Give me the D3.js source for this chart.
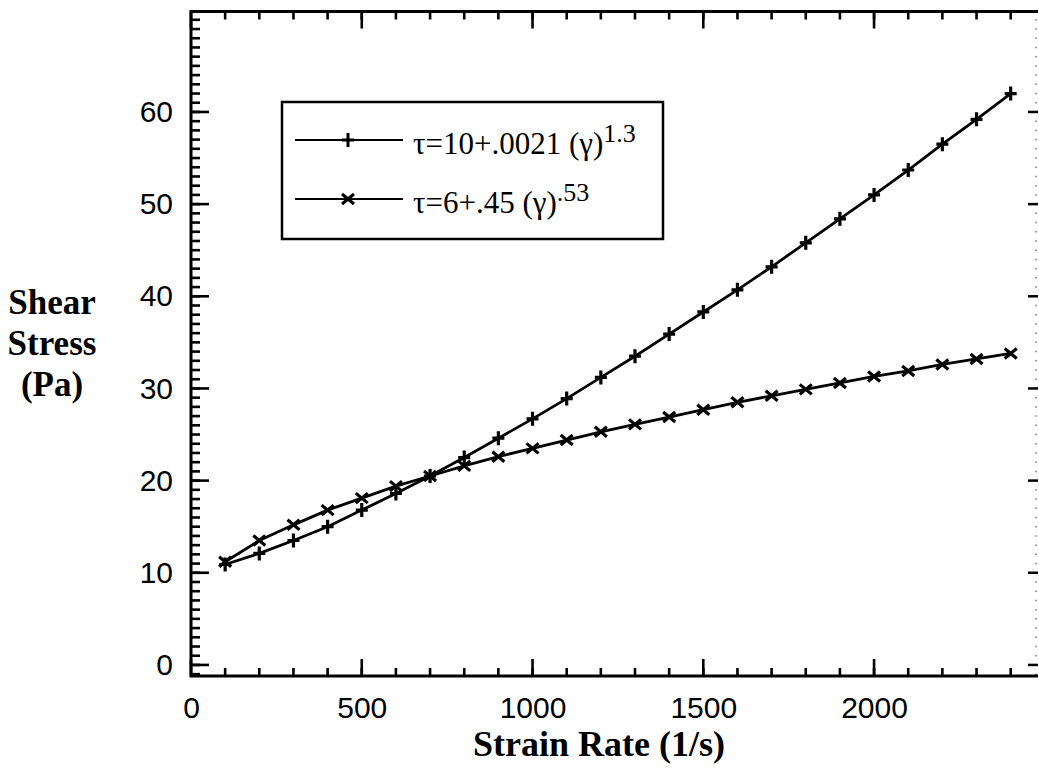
<!DOCTYPE html>
<html>
<head>
<meta charset="utf-8">
<script src="https://cdn.jsdelivr.net/npm/d3@7"></script>
<style>
body { margin: 0; background: #fff; }
svg { display: block; }
.ticklabel { font-family: "Liberation Sans", Arial, sans-serif; font-size: 30px; fill: #000; }
.title { font-family: "Liberation Serif", "Times New Roman", serif; font-weight: bold; fill: #000; }
.leg { font-family: "Liberation Serif", "Times New Roman", serif; font-size: 31px; fill: #000; }
</style>
</head>
<body>
<script>
var width = 1039;
var height = 775;

// strain rate (1/s)
var strainRate = [100, 200, 300, 400, 500, 600, 700, 800, 900, 1000, 1100, 1200,
                  1300, 1400, 1500, 1600, 1700, 1800, 1900, 2000, 2100, 2200, 2300, 2400];
// shear stress (Pa)
var stressPlus = [10.9, 12.1, 13.5, 15.0, 16.8, 18.6, 20.5, 22.5, 24.6, 26.7, 28.9, 31.2,
                  33.5, 35.9, 38.3, 40.7, 43.2, 45.8, 48.4, 51.0, 53.7, 56.5, 59.2, 62.0];
var stressCross = [11.2, 13.5, 15.2, 16.8, 18.1, 19.4, 20.5, 21.6, 22.6, 23.5, 24.4, 25.3,
                   26.1, 26.9, 27.7, 28.5, 29.2, 29.9, 30.6, 31.3, 31.9, 32.6, 33.2, 33.8];

var xMajor = [0, 500, 1000, 1500, 2000];
var xMinor = d3.range(100, 2500, 100);
var yMajor = [0, 10, 20, 30, 40, 50, 60];
var yMinor = d3.range(-1, 71, 1);

var legendLabels = [
    { base: "τ=10+.0021 (γ)", sup: "1.3" },
    { base: "τ=6+.45 (γ)", sup: ".53" }
];

var x = d3.scaleLinear().domain([0, 2480]).range([191, 1038]);
var y = d3.scaleLinear().domain([-1.2, 70.9]).range([676, 11.5]);

var x0 = x.range()[0], x1 = x.range()[1];
var y0 = y.range()[0], y1 = y.range()[1];

var svg = d3.select("body").append("svg")
    .attr("width", width)
    .attr("height", height);

// tick labels via axes (their lines removed)
var fmt = d3.format("d");
svg.append("g").attr("transform", "translate(0," + y0 + ")")
    .call(d3.axisBottom(x).tickValues(xMajor).tickSize(0).tickPadding(21).tickFormat(fmt))
    .call(function (g) {
        g.select(".domain").remove();
        g.selectAll(".tick line").remove();
        g.selectAll("text").attr("class", "ticklabel");
    });
svg.append("g").attr("transform", "translate(" + x0 + ",0)")
    .call(d3.axisLeft(y).tickValues(yMajor).tickSize(0).tickPadding(18).tickFormat(fmt))
    .call(function (g) {
        g.select(".domain").remove();
        g.selectAll(".tick line").remove();
        g.selectAll("text").attr("class", "ticklabel");
    });
svg.selectAll(".ticklabel").style("font-size", "30px");

// series
var plusPath = "M-6,0H6M0,-7V7";
var crossPath = "M-6,-5L6,5M-6,5L6,-5";

var series = [
    { values: stressPlus, marker: plusPath },
    { values: stressCross, marker: crossPath }
];

var valueLine = d3.line()
    .x(function (d) { return x(d[0]); })
    .y(function (d) { return y(d[1]); });

series.forEach(function (s) {
    var pts = strainRate.map(function (v, i) { return [v, s.values[i]]; });
    svg.append("path")
        .attr("d", valueLine(pts))
        .attr("fill", "none")
        .attr("stroke", "#000")
        .attr("stroke-width", 2.8);
    svg.append("g").selectAll("path")
        .data(pts)
        .enter().append("path")
        .attr("transform", function (d) { return "translate(" + x(d[0]) + "," + y(d[1]) + ")"; })
        .attr("d", s.marker)
        .attr("fill", "none")
        .attr("stroke", "#000")
        .attr("stroke-width", 3.2);
});

// legend
svg.append("rect")
    .attr("x", 282).attr("y", 102)
    .attr("width", 381).attr("height", 137)
    .attr("fill", "#fff")
    .attr("stroke", "#000")
    .attr("stroke-width", 2.5);

var legRow = svg.selectAll(".legrow")
    .data(legendLabels)
    .enter().append("g")
    .attr("class", "legrow")
    .attr("transform", function (d, i) { return "translate(0," + (140 + i * 59) + ")"; });

legRow.append("line")
    .attr("x1", 295).attr("x2", 403)
    .attr("stroke", "#000").attr("stroke-width", 1.8);
legRow.append("path")
    .attr("transform", "translate(348,0)")
    .attr("d", function (d, i) { return series[i].marker; })
    .attr("fill", "none").attr("stroke", "#000").attr("stroke-width", 3);

var lt = legRow.append("text")
    .attr("class", "leg")
    .attr("x", 413)
    .attr("y", 14);
lt.append("tspan").text(function (d) { return d.base; });
lt.append("tspan")
    .attr("dy", -12)
    .style("font-size", "26px")
    .text(function (d) { return d.sup; });

// axis titles
svg.append("text")
    .attr("class", "title")
    .attr("x", 599).attr("y", 756)
    .attr("text-anchor", "middle")
    .style("font-size", "36px")
    .text("Strain Rate (1/s)");

svg.selectAll(".ytitle")
    .data(["Shear", "Stress", "(Pa)"])
    .enter().append("text")
    .attr("class", "title ytitle")
    .attr("x", 52)
    .attr("y", function (d, i) { return 314 + i * 41; })
    .attr("text-anchor", "middle")
    .style("font-size", "35px")
    .text(function (d) { return d; });

// right edge of the scan: faint dots + major ticks
svg.append("g").attr("stroke", "#999").attr("stroke-width", 1.5)
    .selectAll("line").data(yMinor).enter().append("line")
    .attr("x1", x1 - 3).attr("x2", x1 - 1)
    .attr("y1", function (d) { return y(d); }).attr("y2", function (d) { return y(d); });
svg.append("g").attr("stroke", "#000").attr("stroke-width", 2.5)
    .selectAll("line").data(yMajor).enter().append("line")
    .attr("x1", x1 - 10).attr("x2", x1)
    .attr("y1", function (d) { return y(d); }).attr("y2", function (d) { return y(d); });

// inward tick marks on bottom, top and left
function xTicks(vals, len) {
    var g = svg.append("g").attr("stroke", "#000").attr("stroke-width", 2.6);
    g.selectAll("line.b").data(vals).enter().append("line")
        .attr("class", "b")
        .attr("x1", function (d) { return x(d); }).attr("x2", function (d) { return x(d); })
        .attr("y1", y0).attr("y2", y0 - len);
    g.selectAll("line.t").data(vals).enter().append("line")
        .attr("class", "t")
        .attr("x1", function (d) { return x(d); }).attr("x2", function (d) { return x(d); })
        .attr("y1", y1).attr("y2", y1 + len);
}
xTicks(xMinor, 8);
xTicks(xMajor, 17);

function yTicks(vals, len) {
    svg.append("g").attr("stroke", "#000").attr("stroke-width", 2.6)
        .selectAll("line").data(vals).enter().append("line")
        .attr("x1", x0).attr("x2", x0 + len)
        .attr("y1", function (d) { return y(d); }).attr("y2", function (d) { return y(d); });
}
yTicks(yMinor, 9);
yTicks(yMajor, 18);

// frame: left, bottom, top
svg.append("path")
    .attr("d", "M" + x1 + "," + y1 + "H" + x0 + "V" + y0 + "H" + x1)
    .attr("fill", "none")
    .attr("stroke", "#000")
    .attr("stroke-width", 3);
</script>
</body>
</html>
